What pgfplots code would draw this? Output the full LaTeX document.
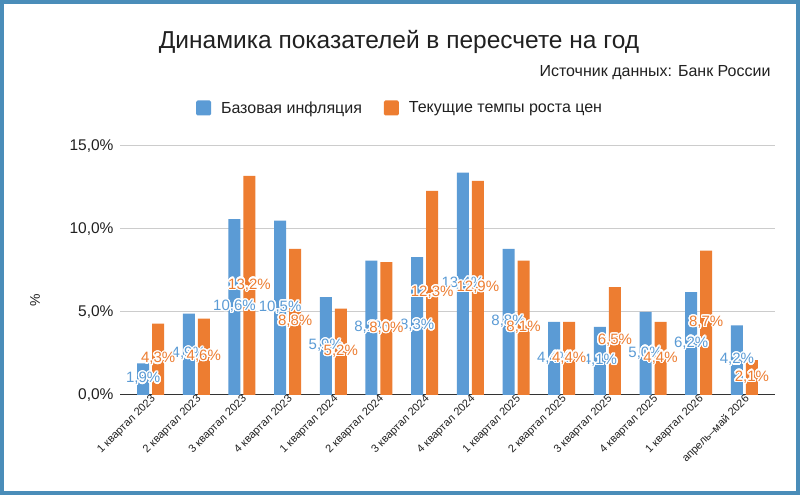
\documentclass[border=0pt]{standalone}
\usepackage{pgfplots}
\pgfplotsset{compat=1.18}
\usepackage{pgfplotstable}
\usepackage{fontspec}
\setmainfont{Liberation Sans}
\usepackage{contour}
\contourlength{1.3pt}
\contournumber{24}
\definecolor{bblue}{RGB}{91,155,213}
\definecolor{borange}{RGB}{237,125,49}
\definecolor{frame}{RGB}{74,141,185}
\definecolor{gridc}{RGB}{204,204,204}
\definecolor{txt}{RGB}{33,33,33}
\pgfplotstableread{
x b t
0 1.9 4.3
1 4.9 4.6
2 10.6 13.2
3 10.5 8.8
4 5.9 5.2
5 8.1 8.0
6 8.3 12.3
7 13.4 12.9
8 8.8 8.1
9 4.4 4.4
10 4.1 6.5
11 5.0 4.4
12 6.2 8.7
13 4.2 2.1
}\datatable
\newcommand{\lbl}{\contour{white}{\pgfmathprintnumber[fixed,fixed zerofill,precision=1,use comma,assume math mode=true]{\pgfplotspointmeta}\%}}
\begin{document}
\begin{tikzpicture}[x=1pt,y=1pt]
\fill[frame] (0,0) rectangle (800,495);
\fill[white] (4,4) rectangle (796,491);
\node[font=\fontsize{24.5}{24.5}\selectfont, text=txt] at (399,453) {Динамика показателей в пересчете на год};
\node[font=\fontsize{16}{16}\selectfont, text=txt, anchor=east] at (774,422) {Источник данных: Банк России};
\node[font=\fontsize{14}{14}\selectfont, text=txt, rotate=90] at (35,195) {\%};
\begin{axis}[
  at={(120pt,100pt)}, anchor=south west,
  scale only axis, width=655pt, height=249pt,
  xmin=-0.67, xmax=13.67, ymin=0, ymax=15,
  ytick={0,5,10,15},
  yticklabels={{0,0\%},{5,0\%},{10,0\%},{15,0\%}},
  xtick={0,...,13},
  xticklabels={1 квартал 2023,2 квартал 2023,3 квартал 2023,4 квартал 2023,1 квартал 2024,2 квартал 2024,3 квартал 2024,4 квартал 2024,1 квартал 2025,2 квартал 2025,3 квартал 2025,4 квартал 2025,1 квартал 2026,апрель–май 2026},
  xticklabel style={rotate=45, anchor=east, font=\fontsize{11}{11}\selectfont, text=txt, xshift=4pt, yshift=-4pt},
  yticklabel style={font=\fontsize{15.5}{15.5}\selectfont, text=txt, xshift=-3pt},
  major tick length=0pt,
  ymajorgrids, grid style={gridc, line width=1pt},
  axis x line*=bottom, axis y line*=left,
  x axis line style={draw=black!80, line width=1pt, -},
  y axis line style={draw=none},
  legend columns=2,
  legend style={at={(0.4275,1)}, anchor=center, yshift=38pt, draw=none, fill=none,
    font=\fontsize{16}{16}\selectfont, text=txt,
    /tikz/every odd column/.append style={column sep=8pt},
    /tikz/every even column/.append style={column sep=20pt}},
  legend image code/.code={\fill[#1, rounded corners=1.5pt] (0pt,-7.5pt) rectangle (15pt,7.5pt);},
]
\addplot[ybar, bar width=12pt, bar shift=-7.5pt, fill=bblue, draw=none] table[x=x, y=b] {\datatable};
\addlegendentry{Базовая инфляция}
\addplot[ybar, bar width=12pt, bar shift=7.5pt, fill=borange, draw=none] table[x=x, y=t] {\datatable};
\addlegendentry{Текущие темпы роста цен}
\addplot[draw=none, mark=none, forget plot, point meta=explicit,
  nodes near coords={\lbl},
  every node near coord/.append style={anchor=center, xshift=-7.5pt, text=bblue, font=\fontsize{15}{15}\selectfont}]
  table[x=x, y expr=\thisrow{b}/2, meta=b] {\datatable};
\addplot[draw=none, mark=none, forget plot, point meta=explicit,
  nodes near coords={\lbl},
  every node near coord/.append style={anchor=center, xshift=7.5pt, text=borange, font=\fontsize{15}{15}\selectfont}]
  table[x=x, y expr=\thisrow{t}/2, meta=t] {\datatable};
\end{axis}
\end{tikzpicture}
\end{document}
